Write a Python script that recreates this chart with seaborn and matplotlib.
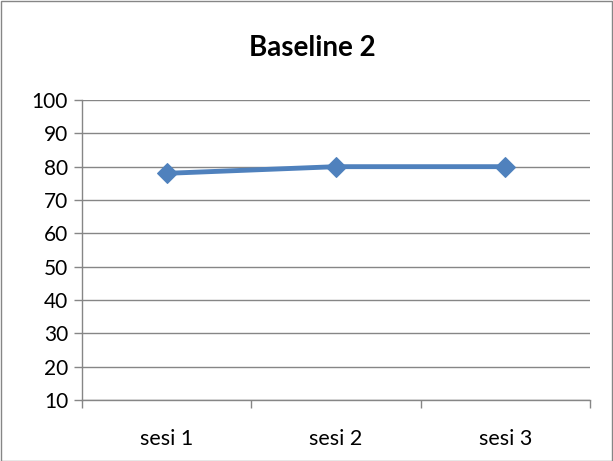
import matplotlib
matplotlib.use("Agg")
import matplotlib.pyplot as plt
import seaborn as sns
import pandas as pd
from matplotlib.patches import Rectangle

categories = ["sesi 1", "sesi 2", "sesi 3"]
values = [78, 80, 80]
yticks = [10, 20, 30, 40, 50, 60, 70, 80, 90, 100]
title = "Baseline 2"

sns.set_theme(style="white")
plt.rcParams['font.family'] = ['Lato', 'DejaVu Sans']
plt.rcParams['text.color'] = 'black'

df = pd.DataFrame({"cat": categories, "val": values})

fig = plt.figure(figsize=(6.13, 4.61), dpi=100)
ax = fig.add_axes([82/613, 1-400/461, (590-82)/613, 300/461])

line_color = "#4F81BD"
sns.lineplot(data=df, x="cat", y="val", ax=ax, color=line_color, linewidth=3.5,
             marker="D", markersize=10, markeredgecolor=line_color, sort=False)

ax.set_ylim(10, 100)
ax.set_yticks(yticks)
ax.set_xlim(-0.5, 2.5)
ax.set_xticks(range(len(categories)))
ax.set_xticklabels(categories)
ax.set_xticks([-0.5, 0.5, 1.5, 2.5], minor=True)
ax.tick_params(axis="x", which="major", bottom=False, length=0, pad=21, labelsize=15.5, labelcolor="black")
ax.tick_params(axis="x", which="minor", bottom=True, length=6, width=1, color="#868686", direction="out")
ax.tick_params(axis="y", which="major", left=True, length=6, width=1, color="#868686", direction="out",
               labelsize=15, labelcolor="black", pad=4)
ax.set_xlabel("")
ax.set_ylabel("")

ax.grid(axis="y", color="#868686", linewidth=1)
ax.set_axisbelow(True)
for s in ["top", "right"]:
    ax.spines[s].set_visible(False)
for s in ["left", "bottom"]:
    ax.spines[s].set_color("#868686")
    ax.spines[s].set_linewidth(1)

fig.text(312.5 / 613, 1 - 48/461, title, ha="center", va="center",
         fontsize=20, fontweight="bold", color="black")

fig.patches.append(Rectangle((0.5/613, 0.5/461), 1 - 1.5/613, 1 - 1.5/461,
                             transform=fig.transFigure, fill=False,
                             edgecolor="#868686", linewidth=1))

fig.savefig("out.png", dpi=100)
